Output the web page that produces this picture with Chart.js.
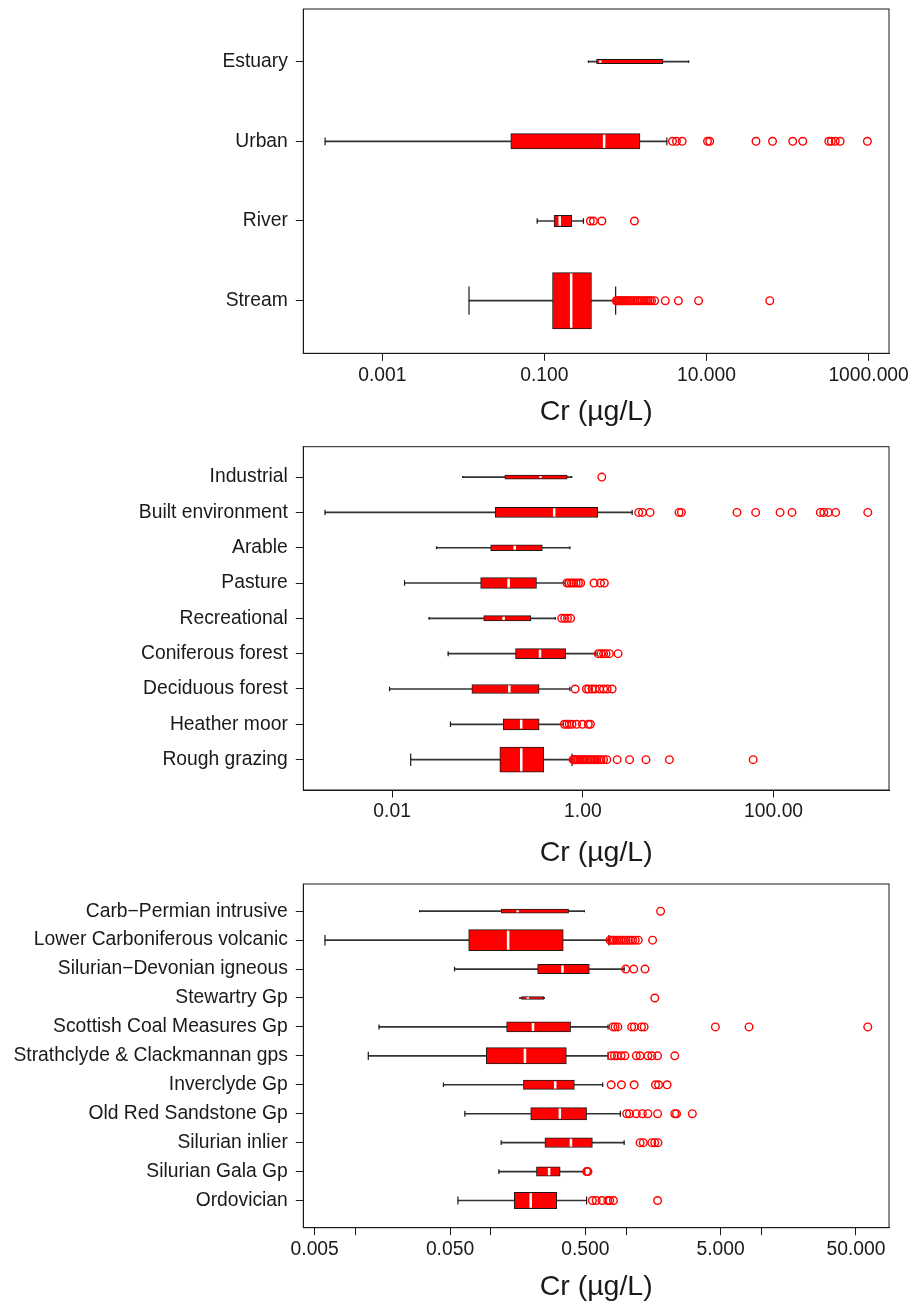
<!DOCTYPE html>
<html>
<head>
<meta charset="utf-8">
<script src="https://cdn.jsdelivr.net/npm/chart.js@4.4.1/dist/chart.umd.min.js"></script>
<style>
  body { margin: 0; background: #fff; }
  .wrap { position: relative; width: 909px; height: 1311px; }
  canvas { position: absolute; left: 0; }
</style>
</head>
<body>
<div class="wrap">
  <canvas id="c1" width="909" height="440" style="top:0"></canvas>
  <canvas id="c2" width="909" height="440" style="top:440px"></canvas>
  <canvas id="c3" width="909" height="431" style="top:880px"></canvas>
</div>
<script>
// --- panel 1: water body type ---
const cats1 = ['Estuary', 'Urban', 'River', 'Stream'];
const lo1  = [0.349, 0.000197, 0.0815, 0.01175];
const q1a  = [0.44, 0.0385, 0.1316, 0.126];
const med1 = [0.489, 0.546, 0.1545, 0.214];
const q3a  = [2.91, 1.51, 0.217, 0.381];
const hi1  = [6.03, 3.24, 0.303, 0.757];
const out1 = [
  [],
  [3.81, 4.26, 5.01, 10.3, 10.96, 40.8, 65.3, 115.9, 154, 323, 347, 388, 446, 966],
  [0.369, 0.403, 0.512, 1.29],
  [0.77, 0.79, 0.82, 0.85, 0.88, 0.91, 0.95, 0.99, 1.03, 1.08, 1.13, 1.18, 1.24, 1.3, 1.37,
   1.44, 1.52, 1.6, 1.7, 1.8, 1.9, 2.0, 2.1, 2.29, 3.10, 4.50, 7.98, 60.4]
];
const ticks1 = [0.001, 0.1, 10, 1000];
const tickLabels1 = ['0.001', '0.100', '10.000', '1000.000'];

// --- panel 2: land use ---
const cats2 = ['Industrial', 'Built environment', 'Arable', 'Pasture', 'Recreational',
  'Coniferous forest', 'Deciduous forest', 'Heather moor', 'Rough grazing'];
const lo2  = [0.055, 0.00198, 0.0293, 0.0135, 0.0244, 0.0387, 0.00941, 0.0409, 0.01567];
const q1b  = [0.152, 0.1205, 0.108, 0.0848, 0.0913, 0.1968, 0.0686, 0.146, 0.1347];
const med2 = [0.36, 0.501, 0.193, 0.1666, 0.1476, 0.3556, 0.1694, 0.2258, 0.226];
const q3b  = [0.686, 1.43, 0.376, 0.3266, 0.2844, 0.66, 0.348, 0.348, 0.389];
const hi2  = [0.764, 3.29, 0.731, 0.654, 0.514, 1.37, 0.731, 0.625, 0.77];
const out2 = [
  [1.58],
  [3.85, 4.22, 5.07, 10.2, 10.8, 41.3, 64.9, 117, 156, 309, 336, 375, 447, 972],
  [],
  [0.68, 0.72, 0.76, 0.8, 0.85, 0.9, 0.95, 1.31, 1.53, 1.68],
  [0.6, 0.645, 0.69, 0.745],
  [1.45, 1.55, 1.65, 1.75, 1.9, 2.34],
  [0.83, 1.09, 1.15, 1.25, 1.35, 1.5, 1.65, 1.8, 2.03],
  [0.64, 0.68, 0.72, 0.77, 0.86, 0.99, 1.14, 1.2],
  [0.79, 0.81, 0.84, 0.87, 0.9, 0.93, 0.97, 1.0, 1.04, 1.08, 1.12, 1.17, 1.22, 1.28, 1.34,
   1.4, 1.47, 1.55, 1.65, 1.78, 2.29, 3.09, 4.59, 8.08, 61.1]
];
const ticks2 = [0.01, 1, 100];
const tickLabels2 = ['0.01', '1.00', '100.00'];

// --- panel 3: geology ---
const cats3 = ['Carb\u2212Permian intrusive', 'Lower Carboniferous volcanic', 'Silurian\u2212Devonian igneous',
  'Stewartry Gp', 'Scottish Coal Measures Gp', 'Strathclyde & Clackmannan gps', 'Inverclyde Gp',
  'Old Red Sandstone Gp', 'Silurian inlier', 'Silurian Gala Gp', 'Ordovician'];
const lo3  = [0.0298, 0.00596, 0.054, 0.164, 0.01494, 0.01245, 0.0447, 0.0644, 0.1195, 0.1149, 0.0572];
const q1c  = [0.1195, 0.0687, 0.222, 0.1688, 0.131, 0.0927, 0.1744, 0.1974, 0.2513, 0.2177, 0.1492];
const med3 = [0.158, 0.1344, 0.339, 0.188, 0.2053, 0.179, 0.2996, 0.324, 0.3914, 0.27, 0.1974];
const q3c  = [0.376, 0.3434, 0.535, 0.2463, 0.389, 0.362, 0.415, 0.511, 0.5638, 0.326, 0.3075];
const hi3  = [0.4915, 0.746, 0.968, 0.249, 0.736, 0.736, 0.672, 0.907, 0.968, 0.495, 0.511];
const out3 = [
  [1.80],
  [0.76, 0.78, 0.8, 0.82, 0.85, 0.88, 0.91, 0.94, 0.97, 1.0, 1.04, 1.08, 1.12, 1.17, 1.23, 1.57],
  [0.994, 1.14, 1.38],
  [1.63],
  [0.80, 0.83, 0.87, 1.10, 1.15, 1.30, 1.36, 4.57, 8.10, 61.1],
  [0.781, 0.82, 0.861, 0.92, 0.981, 1.19, 1.27, 1.45, 1.55, 1.71, 2.29],
  [0.776, 0.925, 1.147, 1.65, 1.74, 2.01],
  [1.01, 1.06, 1.19, 1.32, 1.45, 1.71, 2.29, 2.36, 3.09],
  [1.27, 1.34, 1.55, 1.63, 1.72],
  [0.511, 0.523],
  [0.564, 0.602, 0.664, 0.732, 0.7575, 0.807, 1.71]
];
const ticks3 = [0.005, 0.01, 0.05, 0.1, 0.5, 1, 5, 10, 50];
const tickLabels3 = ['0.005', '', '0.050', '', '0.500', '', '5.000', '', '50.000'];

// box heights in px (varwidth boxes)
const boxH1 = [4.3, 15.3, 11.3, 56.3];
const boxH2 = [4, 10.3, 6, 10.7, 5.3, 10, 9, 11, 25];
const boxH3 = [4, 21, 9.3, 3, 10, 16.3, 9.3, 12.3, 9.7, 9.3, 16.3];

const FONT = "'Liberation Sans', Arial, Helvetica, sans-serif";
const INK = '#1a1a1a';
Chart.defaults.font.family = FONT;

// box round the plot region, like R's box()
const framePlugin = {
  id: 'frame',
  afterDatasetsDraw(chart) {
    const { ctx, chartArea: a } = chart;
    ctx.save();
    ctx.strokeStyle = INK;
    ctx.lineWidth = 1;
    ctx.strokeRect(a.left, a.top, a.right - a.left, a.bottom - a.top);
    ctx.restore();
  }
};

function makeChart(id, p) {
  const n = p.cats.length;
  const pos = p.cats.map((c, i) => n - i);
  const datasets = [];

  // whisker line, behind everything
  datasets.push({
    type: 'bar', indexAxis: 'y', grouped: false, order: 5,
    data: pos.map((y, i) => ({ x: [p.lo[i], p.hi[i]], y })),
    backgroundColor: '#333', barThickness: 1
  });
  // one dataset per box so each one gets its own height
  pos.forEach((y, i) => {
    datasets.push({
      type: 'bar', indexAxis: 'y', grouped: false, order: 3,
      data: [{ x: [p.q1[i], p.q3[i]], y }],
      backgroundColor: '#ff0000', borderColor: INK, borderWidth: 1, borderSkipped: false,
      barThickness: p.boxH[i]
    });
  });
  // staples
  datasets.push({
    type: 'scatter', order: 4,
    data: pos.flatMap((y, i) => [{ x: p.lo[i], y }, { x: p.hi[i], y }]),
    pointStyle: 'line', pointRotation: 90,
    pointRadius: p.boxH.flatMap(h => [h / 4, h / 4]),
    pointBorderColor: INK, pointBorderWidth: 1.2
  });
  // medians
  datasets.push({
    type: 'scatter', order: 2,
    data: pos.map((y, i) => ({ x: p.med[i], y })),
    pointStyle: 'line', pointRotation: 90,
    pointRadius: p.boxH.map(h => Math.max(h / 2 - 1, 0.8)),
    pointBorderColor: '#ffffff', pointBorderWidth: 2.5
  });
  // outliers
  datasets.push({
    type: 'scatter', order: 1,
    data: pos.flatMap((y, i) => p.out[i].map(v => ({ x: v, y }))),
    pointStyle: 'circle', pointRadius: 3.8,
    pointBorderColor: '#ff0000', pointBackgroundColor: 'rgba(0,0,0,0)', pointBorderWidth: 1.4
  });

  return new Chart(document.getElementById(id), {
    type: 'bar',
    data: { datasets },
    plugins: [framePlugin],
    options: {
      responsive: false,
      animation: false,
      events: [],
      layout: { autoPadding: false, padding: { top: p.padTop, right: 20, left: 0, bottom: 0 } },
      plugins: { legend: { display: false }, tooltip: { enabled: false } },
      scales: {
        x: {
          type: 'logarithmic', position: 'bottom', bounds: 'data', offset: false,
          min: p.xMin, max: p.xMax,
          afterBuildTicks: s => { s.ticks = p.ticks.map(v => ({ value: v })); },
          afterFit: s => { s.height = p.xAxisH; s.paddingLeft = 0; s.paddingRight = 0; },
          ticks: {
            autoSkip: false, maxRotation: 0, minRotation: 0, padding: 3, color: INK,
            font: { size: 19.3 },
            callback: (v, i) => p.tickLabels[i]
          },
          grid: { display: true, offset: false, drawOnChartArea: false, drawTicks: true, tickLength: 7.5, color: INK },
          border: { display: true, color: INK, width: 1 },
          title: {
            display: true, text: 'Cr (\u00b5g/L)', color: INK,
            font: { size: 28.5, lineHeight: 1.2 },
            padding: { top: 0, bottom: p.titlePad }
          }
        },
        y: {
          type: 'linear', bounds: 'data', offset: false, min: p.yMin, max: p.yMax,
          afterBuildTicks: s => { s.ticks = pos.map(v => ({ value: v })); },
          afterFit: s => { s.width = 303.3; s.paddingTop = 0; s.paddingBottom = 0; },
          ticks: {
            autoSkip: false, padding: 8, color: INK, font: { size: 19.3 },
            callback: v => p.cats[n - v]
          },
          grid: { display: true, offset: false, drawOnChartArea: false, drawTicks: true, tickLength: 7.5, color: INK },
          border: { display: true, color: INK, width: 1 }
        }
      }
    }
  });
}

makeChart('c1', {
  cats: cats1, lo: lo1, q1: q1a, med: med1, q3: q3a, hi: hi1, out: out1, boxH: boxH1,
  ticks: ticks1, tickLabels: tickLabels1,
  xMin: 0.000106, xMax: 1786, yMin: 0.34, yMax: 4.66,
  padTop: 9, xAxisH: 86.7, titlePad: 10.9
});

makeChart('c2', {
  cats: cats2, lo: lo2, q1: q1b, med: med2, q3: q3b, hi: hi2, out: out2, boxH: boxH2,
  ticks: ticks2, tickLabels: tickLabels2,
  xMin: 0.001172, xMax: 1622, yMin: 0.14, yMax: 9.86,
  padTop: 6.7, xAxisH: 90, titlePad: 9.9
});

makeChart('c3', {
  cats: cats3, lo: lo3, q1: q1c, med: med3, q3: q3c, hi: hi3, out: out3, boxH: boxH3,
  ticks: ticks3, tickLabels: tickLabels3,
  xMin: 0.00412, xMax: 87.7, yMin: 0.06, yMax: 11.94,
  padTop: 4, xAxisH: 83.3, titlePad: 6.9
});
</script>
</body>
</html>
